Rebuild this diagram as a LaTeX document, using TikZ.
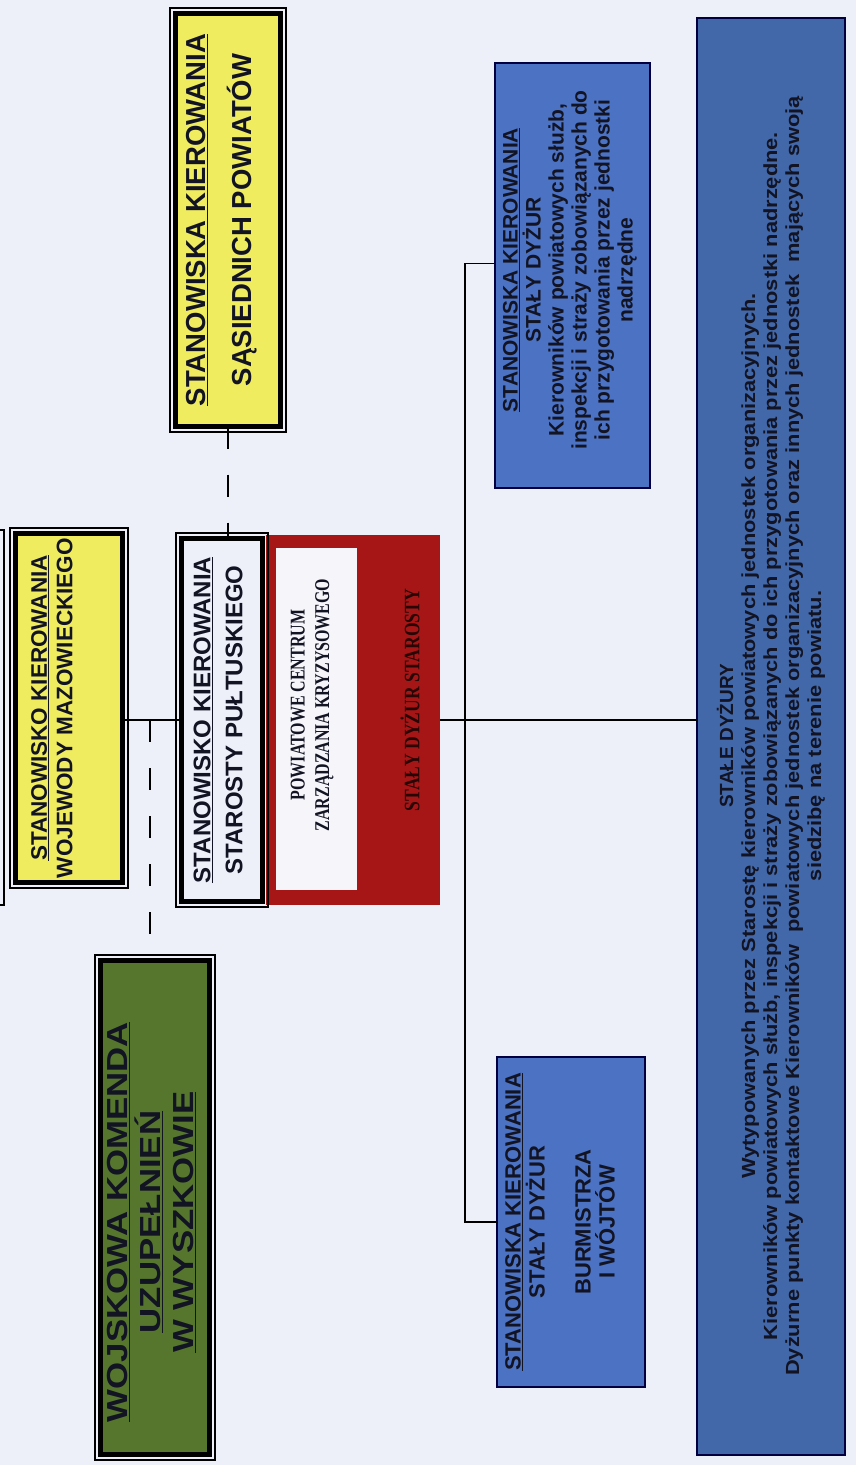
\documentclass[tikz,border=0pt]{standalone}
\usepackage{fontspec}
\setmainfont{Liberation Sans}
\newfontfamily\serifa[FakeStretch=0.76]{Liberation Serif}
\newfontfamily\serifc[FakeStretch=0.8]{Liberation Serif}
\newfontfamily\widea[FakeStretch=1.15]{Liberation Sans}
\newfontfamily\wideb[FakeStretch=1.2]{Liberation Sans}
\definecolor{bgc}{RGB}{237,239,249}
\definecolor{yel}{RGB}{240,236,96}
\definecolor{grn}{RGB}{86,118,46}
\definecolor{redb}{RGB}{166,22,22}
\definecolor{blu}{RGB}{76,114,196}
\definecolor{bigblu}{RGB}{66,104,170}
\definecolor{whitebox}{RGB}{246,245,250}
\definecolor{darktxt}{RGB}{18,20,35}
\definecolor{redtxt}{RGB}{40,6,6}
\newcommand\outerframe[1]{\draw[line width=1.2pt] ([shift={(-5.5,-5.5)}]#1.north west) rectangle ([shift={(5.5,5.5)}]#1.south east);}
\begin{document}
\begin{tikzpicture}[x=1pt,y=-1pt,
  boxshape/.style={rectangle, inner sep=0pt, outer sep=0pt},
  thickbox/.style={boxshape, draw=black, line width=5pt},
  bluebox/.style={boxshape, draw=black!75!blue, line width=1.3pt},
  txt/.style={rotate=90, inner sep=0pt, align=center, font=\bfseries, text=darktxt},
  conn/.style={draw=black, line width=1.9pt},
  dashconn/.style={draw=black, line width=2.6pt, dash pattern=on 22pt off 26pt},
]
\fill[bgc] (0,0) rectangle (856,1465);
\useasboundingbox (0,0) rectangle (856,1465);

% partially visible frame at the left edge
\draw[line width=1.2pt] (0,530) -- (4,530) -- (4,905) -- (0,905);

% boxes
\node[thickbox, fill=yel, minimum width=105pt, minimum height=413pt] (sas) at (228,220) {};
\outerframe{sas}
\node[thickbox, fill=yel, minimum width=107pt, minimum height=349pt] (woj) at (69,708) {};
\outerframe{woj}
\node[thickbox, fill=grn, minimum width=109pt, minimum height=494pt] (wku) at (155,1207.5) {};
\outerframe{wku}
\node[boxshape, fill=redb, minimum width=174pt, minimum height=370pt] (red) at (353,720) {};
\node[boxshape, fill=whitebox, minimum width=81pt, minimum height=342pt] (pczk) at (316.5,719) {};
\node[thickbox, fill=bgc, minimum width=81pt, minimum height=363pt] (sta) at (222,720) {};
\outerframe{sta}
\node[bluebox, fill=blu, minimum width=155pt, minimum height=425pt] (bl1) at (572.5,275.5) {};
\node[bluebox, fill=blu, minimum width=148pt, minimum height=330pt] (bl2) at (571,1222) {};
\node[bluebox, fill=bigblu, minimum width=148pt, minimum height=1437pt] (big) at (771,736.5) {};

% texts
\node[txt, font=\bfseries\fontsize{27.5}{31}\selectfont] (sastxt) at (222,220)
  {\underline{STANOWISKA KIEROWANIA}\\[15pt]SĄSIEDNICH POWIATÓW};
\node[txt, font=\bfseries\fontsize{22.5}{25.5}\selectfont] (wojtxt) at (52,708)
  {\underline{STANOWISKO KIEROWANIA}\\WOJEWODY MAZOWIECKIEGO};
\node[txt, font=\bfseries\fontsize{24}{32}\selectfont] (statxt) at (218,720)
  {\underline{STANOWISKO KIEROWANIA}\\STAROSTY PUŁTUSKIEGO};
\node[txt, font=\serifa\bfseries\fontsize{21}{24.5}\selectfont] (pczktxt) at (312,705)
  {POWIATOWE CENTRUM\\ZARZĄDZANIA KRYZYSOWEGO};
\node[txt, text=redtxt, font=\serifc\bfseries\fontsize{22}{24}\selectfont] (redtxt) at (410,700)
  {STAŁY DYŻUR STAROSTY};
\node[txt, font=\wideb\bfseries\fontsize{29}{33}\selectfont] (wkutxt) at (152,1222)
  {\underline{WOJSKOWA KOMENDA}\\\underline{UZUPEŁNIEŃ}\\\underline{W WYSZKOWIE}};
\node[txt, font=\bfseries\fontsize{21}{23}\selectfont] (bl1txt) at (570,270)
  {\underline{STANOWISKA KIEROWANIA}\\STAŁY DYŻUR\\Kierowników powiatowych służb,\\inspekcji i straży zobowiązanych do\\ich przygotowania przez jednostki\\nadrzędne};
\node[txt, font=\bfseries\fontsize{22}{24}\selectfont] (bl2txt) at (560,1222)
  {\underline{STANOWISKA KIEROWANIA}\\STAŁY DYŻUR\\[22pt]BURMISTRZA\\I WÓJTÓW};
\node[txt, font=\widea\bfseries\fontsize{19}{22}\selectfont] (bigtxt) at (771,736)
  {{\normalfont\bfseries\fontsize{19}{22}\selectfont STAŁE DYŻURY}\\Wytypowanych przez Starostę kierowników powiatowych jednostek organizacyjnych.\\Kierowników powiatowych służb, inspekcji i straży zobowiązanych do ich przygotowania przez jednostki nadrzędne.\\Dyżurne punkty kontaktowe Kierowników\ \ powiatowych jednostek organizacyjnych oraz innych jednostek\ \ mających swoją\\siedzibę na terenie powiatu.};

% connectors
\coordinate (spine) at (465,720);
\draw[conn] (woj.east |- sta.west) -- (sta.west);
\draw[dashconn] ([xshift=-5pt]wku.north |- sta.west) -- ([xshift=-5pt]wku.north);
\draw[dashconn] (sas.south) -- (sas.south |- sta.north);
\draw[conn] (red.east) -- (red.east -| big.west);
\draw[conn] ([yshift=12pt]bl1.west) -| (spine) |- (bl2.west);
\end{tikzpicture}
\end{document}
